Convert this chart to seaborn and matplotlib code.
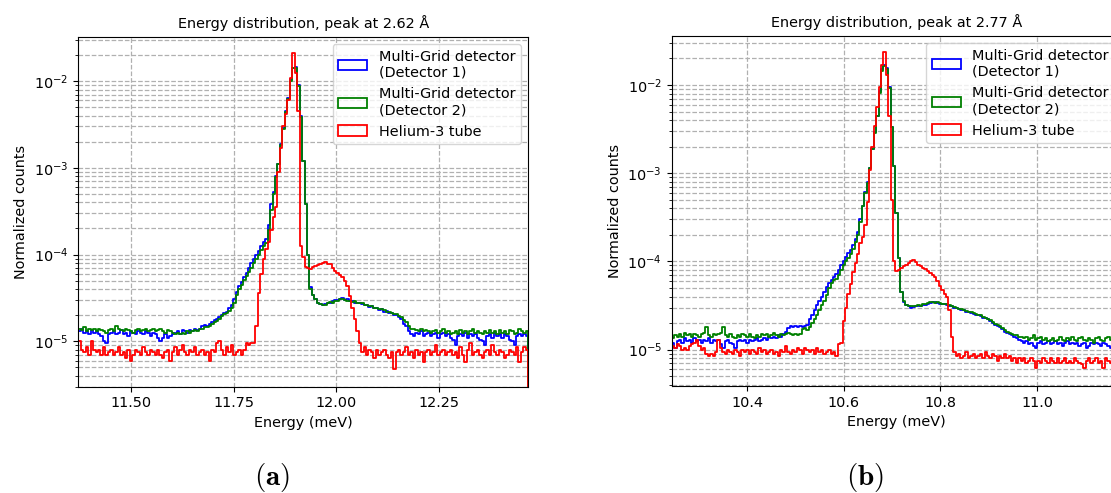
import numpy as np
import matplotlib
matplotlib.use("Agg")
import matplotlib.pyplot as plt
from matplotlib.ticker import MultipleLocator
import seaborn as sns

# Normalized counts per energy bin, in units of 1e-6.
# Panel (a): peak at 2.62 Å, energy window 11.372 - 12.467 meV
energy_range_a = (11.372, 12.467)
mg1_a = [
    13, 14, 12.5, 13, 12, 13.5, 12.5, 13, 12, 11.5,
    10, 9.5, 12, 12.5, 13, 12, 12.5, 13.5, 12, 12.5,
    11.5, 13, 12.5, 12, 13, 12.5, 12, 13, 12.5, 11.5,
    12.5, 12, 11, 10, 11, 12, 11, 11.5, 12, 12.5,
    13, 12, 13.5, 13, 12.5, 13.5, 13, 14, 13.5, 14,
    15, 15.5, 15, 16, 16.5, 17.5, 18, 19, 20, 21,
    22, 24, 26, 31, 37, 43, 48, 55, 62, 70,
    80, 90, 100, 110, 125, 140, 150, 220, 380, 520,
    800, 1100, 1900, 2900, 4500, 6400, 10500, 14200, 14600, 9000,
    4000, 1200, 380, 100, 42, 34, 31, 28, 27, 26,
    27, 28, 28, 29, 30, 30, 31, 31.5, 30, 30.5,
    29, 29, 28, 28, 27.5, 27, 26, 26.5, 25, 25.5,
    24, 24.5, 23, 23.5, 22, 22.5, 21, 21.5, 20, 20,
    19, 18, 16, 15, 13, 12, 11.5, 12.5, 12, 13,
    11.5, 12, 12.5, 11.5, 12, 12.5, 11, 12, 12.5, 11.5,
    12, 11, 10.5, 9, 11.5, 12, 11.5, 12.5, 11, 12,
    11.5, 12, 11, 10.5, 10, 9, 11.5, 12, 11, 12.5,
    11.5, 12, 11, 12, 11.5, 10.5, 10, 9, 11.5, 12,
    11.5, 12, 11.5,
]
mg2_a = [
    14, 13.5, 14.5, 13, 14, 13.5, 14, 13, 14, 13.5,
    13, 12.5, 13.5, 14, 13, 15, 14, 13.5, 13, 14,
    13.5, 13, 12.5, 13.5, 14, 13, 13.5, 14, 13, 13.5,
    14, 13, 13.5, 14, 13, 12.5, 13.5, 13, 12.5, 12,
    12.5, 12, 12.5, 12, 13, 12.5, 13, 13.5, 13, 14,
    14, 14.5, 14.5, 15, 16, 16.5, 17, 18, 19.5, 20.5,
    21, 22.5, 24, 28, 34, 40, 45, 51, 56, 63,
    70, 80, 90, 100, 112, 125, 135, 190, 330, 500,
    780, 1100, 1850, 2800, 4400, 6300, 10000, 14000, 14300, 8800,
    3900, 1200, 380, 100, 40, 34, 31, 28, 27, 26,
    26.5, 27.5, 28.5, 28, 29.5, 29, 30.5, 31, 30, 29.5,
    29, 28.5, 29, 28, 27.5, 27.5, 26.5, 26, 25.5, 25.5,
    24.5, 24, 23.5, 23.5, 23, 22, 22, 21, 20.5, 20.5,
    19.5, 19, 17.5, 16.5, 15, 14, 14, 13.5, 13, 14,
    13, 13.5, 13, 12.5, 13, 13.5, 12.5, 13, 14, 12.5,
    13, 12, 12.5, 13, 12, 13.5, 12.5, 13, 12, 13,
    14, 12.5, 13, 12.5, 12, 13, 12.5, 13.5, 12.5, 13,
    12, 13.5, 12.5, 13, 12, 13.5, 13, 12, 12.5, 14,
    13, 12.5, 13,
]
he3_a = [
    10, 8, 7.5, 8.5, 7, 10, 8, 7.5, 8, 7,
    8.5, 7, 7.5, 8, 7, 7.5, 8.5, 7, 7.5, 6.5,
    8, 6, 7, 8, 7.5, 7, 8.5, 7.5, 7, 8,
    7.5, 7, 8, 7, 6.5, 7.5, 8, 6, 7.5, 8.5,
    7, 8, 9, 7.5, 7, 8, 7.5, 8.5, 7, 7.5,
    8, 7, 7.5, 6, 8, 7.5, 9.5, 10, 8, 7,
    8.5, 7.5, 9, 7, 7.5, 8, 7, 8, 9.5, 9,
    9.5, 9.5, 15, 36, 60, 90, 116, 140, 190, 270,
    350, 900, 1700, 3000, 4200, 6000, 11000, 21200, 12500, 4500,
    127, 95, 72, 70, 68, 72, 74, 76, 78, 80,
    82, 78, 77, 70, 64, 62, 58, 55, 50, 43,
    33, 24, 18, 13, 9.5, 7.5, 8.5, 7, 8, 7.5,
    6.5, 8, 7, 7.5, 8, 7, 6.5, 7.5, 4.8, 7.5,
    8, 7, 7.5, 8.5, 7, 7.5, 6.5, 8, 7, 7.5,
    5.8, 7.5, 8, 7, 7.5, 9, 7, 7.5, 8, 7,
    7.5, 8, 7, 7.5, 6.5, 8.5, 7, 5.8, 8, 9.5,
    7, 7.5, 8, 7, 6.5, 7.5, 8, 7, 9, 7.5,
    7, 8, 7.5, 6.5, 7, 8, 7.5, 7, 8.5, 5.8,
    7.5, 8.5, 8,
]

# Panel (b): peak at 2.77 Å, energy window 10.244 - 11.175 meV
energy_range_b = (10.244, 11.175)
mg1_b = [
    12, 10.5, 12.5, 13, 12, 13.5, 12.5, 13, 12, 13.5,
    12.5, 13, 12, 13, 12.5, 13.5, 12, 13, 12.5, 13,
    11.5, 10.5, 12.5, 13, 12, 11.5, 10.5, 12.5, 13, 12.5,
    13, 12, 13, 12.5, 13, 13.5, 12.5, 13, 13.5, 13,
    14, 13.5, 14, 13.5, 14.5, 14, 15, 16, 17.5, 18.5,
    18, 18.5, 18, 18.5, 18, 18.5, 19, 22, 25, 28,
    32, 36, 40, 45, 51, 57, 62, 66, 72, 80,
    90, 100, 113, 125, 135, 155, 180, 215, 300, 430,
    620, 800, 1150, 1900, 2900, 4500, 8500, 15000, 16700, 15500,
    9500, 3300, 1200, 350, 110, 45, 35, 32, 31, 30,
    30.5, 31, 31.5, 31, 32, 32, 33, 34, 35, 34.5,
    34, 33, 33, 32.5, 32, 31, 31, 30, 29.5, 29,
    28.5, 28, 27, 26.5, 26, 25.5, 25, 24.5, 24, 23,
    23, 22, 21, 20, 19, 18.5, 18, 17, 16, 15.5,
    15, 14.5, 14, 13.5, 13, 12.5, 12, 12.5, 11.5, 12,
    11, 10.5, 12, 12.5, 11.5, 12, 12.5, 11.5, 12, 12.5,
    11.5, 12, 11, 12, 12.5, 11.5, 12, 11.5, 12, 11,
    11.5, 12, 10.5, 11, 12, 11.5, 12, 11.5, 11, 12,
    11.5, 11, 10.5, 10, 11, 10.5, 11,
]
mg2_b = [
    13.5, 14.5, 14, 15, 14, 15.5, 14.5, 15, 14, 15,
    14.5, 14, 15, 15.5, 18, 14.5, 14, 15, 14.5, 15,
    15.5, 18, 14.5, 14, 15, 14, 13.5, 14.5, 14, 15,
    14.5, 14, 15, 14, 13.5, 14.5, 14, 15, 14.5, 15,
    14, 14.5, 15.5, 14.5, 14, 15, 14.5, 15, 15.5, 15,
    14.5, 15, 14.5, 15, 17, 17.5, 16.5, 18, 20, 22,
    25, 28, 32, 36, 42, 50, 57, 61, 64, 70,
    80, 90, 100, 110, 120, 140, 165, 200, 280, 420,
    600, 780, 1150, 1900, 2850, 4400, 8200, 14500, 16500, 15000,
    9300, 3300, 1200, 350, 110, 45, 36, 32, 31.5, 31,
    31, 31.5, 32, 31.5, 32.5, 33, 33.5, 34.5, 35, 34,
    34.5, 33.5, 33, 33, 32.5, 32, 31, 30.5, 30, 29,
    29, 28.5, 27.5, 27, 26.5, 26, 25.5, 25, 24.5, 23.5,
    23, 22.5, 21.5, 20.5, 19.5, 19, 18.5, 17.5, 16.5, 16,
    15.5, 15, 14.5, 14.5, 14, 14, 13.5, 14, 13, 13.5,
    14.5, 13, 13.5, 14, 13, 13.5, 12.5, 13, 13.5, 12.5,
    13, 14, 13, 12.5, 13.5, 13, 14, 13, 12.5, 13.5,
    14, 13, 12.5, 13.5, 13, 12, 13.5, 14, 13, 12.5,
    13.5, 14, 13, 12.5, 14, 13.5, 13,
]
he3_b = [
    11, 10.5, 11.5, 11, 10, 10.5, 10, 11, 11.5, 12,
    13, 11, 10, 10.5, 9, 8.5, 9, 8.5, 9.5, 13,
    10.5, 9.5, 9, 10, 9.5, 9, 10, 9.5, 8.5, 10,
    9.5, 10, 9, 10, 9.5, 9, 10.5, 9.5, 10, 9,
    9.5, 10, 9, 9.5, 8.5, 10, 9.5, 11, 9.5, 9,
    10, 9.5, 10.5, 10, 9, 10.5, 10, 9.5, 10, 9,
    10.5, 9.5, 10, 9, 9.5, 10, 9, 9.5, 8.5, 11.5,
    12, 21, 30, 43, 55, 75, 97, 120, 160, 190,
    260, 470, 1100, 2000, 3400, 5600, 9500, 17000, 23600, 13000,
    4500, 500, 100, 77, 80, 84, 88, 90, 95, 100,
    105, 98, 90, 88, 85, 82, 77, 74, 70, 67,
    60, 53, 47, 43, 40, 28, 14, 9.5, 8.5, 9,
    8, 8.5, 9.5, 8, 8.5, 9, 8, 8.5, 9, 8,
    9.5, 8.5, 8, 9, 8.5, 7.5, 8.5, 8, 9, 8,
    8.5, 7.5, 8, 7, 8, 7.5, 8, 7, 7.5, 8,
    7.5, 6.2, 7.5, 7, 8, 7.5, 7, 8, 7.5, 7,
    8, 7, 7.5, 8, 7, 7.5, 7, 8, 7.5, 7,
    6.8, 6.2, 7.5, 8, 7, 7.5, 8, 7, 7.5, 6.2,
    8, 7.5, 7, 8, 7.5, 6.8, 7.5,
]

series_labels = ["Multi-Grid detector\n(Detector 1)",
                 "Multi-Grid detector\n(Detector 2)",
                 "Helium-3 tube"]
series_colors = ["blue", "green", "red"]
unit = 1e-6
fs = 10.4

panels = [
    dict(title="Energy distribution, peak at 2.62 Å", erange=energy_range_a,
         series=[mg1_a, mg2_a, he3_a], ylim=(3.0e-6, 3.25e-2), xstep=0.25,
         rect=[0.07048, 0.21562, 0.40504, 0.70994], tag="(a)", tag_x=0.2448),
    dict(title="Energy distribution, peak at 2.77 Å", erange=energy_range_b,
         series=[mg1_b, mg2_b, he3_b], ylim=(3.87e-6, 3.62e-2), xstep=0.2,
         rect=[0.60459, 0.21704, 0.40504, 0.71055], tag="(b)", tag_x=0.7786),
]

for p in panels:
    n = {len(s) for s in p["series"]}
    if len(n) != 1:
        raise ValueError(f"series length mismatch: {[len(s) for s in p['series']]}")

fig = plt.figure(figsize=(11.11, 4.93), dpi=100)

for p in panels:
    ax = fig.add_axes(p["rect"])
    ax.set_yscale("log")
    nbins = len(p["series"][0])
    edges = np.linspace(p["erange"][0], p["erange"][1], nbins + 1)
    centers = 0.5 * (edges[:-1] + edges[1:])
    for vals, lab, col in zip(p["series"], series_labels, series_colors):
        sns.histplot(x=centers, weights=np.asarray(vals) * unit,
                     bins=edges.tolist(),
                     element="step", fill=True, facecolor="none",
                     edgecolor=col, color=col, linewidth=1.3,
                     label=lab, ax=ax)
    ax.set_xlim(edges[0], edges[-1])
    ax.set_ylim(*p["ylim"])
    ax.xaxis.set_major_locator(MultipleLocator(p["xstep"]))
    ax.set_axisbelow(True)
    ax.grid(True, which="both", linestyle="--", color="#b0b0b0", linewidth=0.9)
    ax.set_title(p["title"], fontsize=fs)
    ax.set_xlabel("Energy (meV)", fontsize=fs)
    ax.set_ylabel("Normalized counts", fontsize=fs)
    ax.tick_params(labelsize=fs)
    ax.legend(loc="upper right", fontsize=fs)
    fig.text(p["tag_x"], 1 - 478 / 493, r"$\mathbf{" + p["tag"] + "}$",
             ha="center", va="center", fontsize=21, math_fontfamily="cm")

fig.savefig("out.png", dpi=100)
